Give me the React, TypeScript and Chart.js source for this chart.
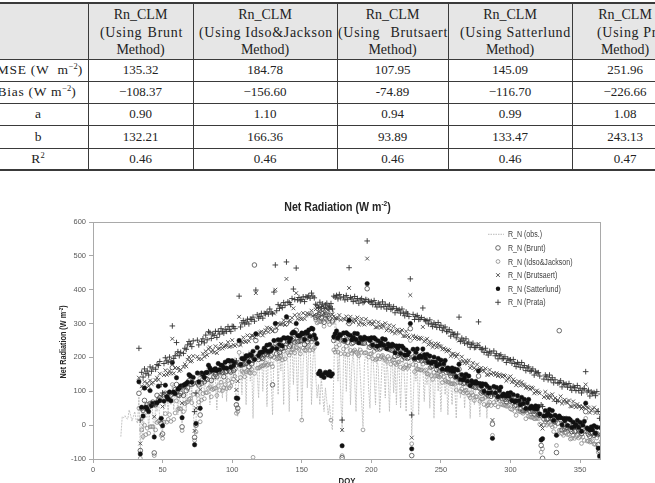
import React, { useEffect, useRef } from "react";
import { Chart, registerables } from "chart.js";

Chart.register(...registerables);

// ---------------- DATA ----------------
const OBS_START_DOY = 20;
const MODEL_START_DOY = 33;
const X_TICKS = [0, 50, 100, 150, 200, 250, 300, 350];
const Y_TICKS = [-100, 0, 100, 200, 300, 400, 500, 600];

const SERIES_LABELS = [
  "R_N (obs.)",
  "R_N (Brunt)",
  "R_N (Idso&Jackson)",
  "R_N (Brutsaert)",
  "R_N (Satterlund)",
  "R_N (Prata)",
];

const OBS = [
  -34, 25, 22, 28, 20, 18, 45, 30, 12, 25,
  40, 15, 5, 84, -78, 55, -44, 70, 20, 60,
  -10, 50, 75, 30, -40, 65, 40, 80, 15, -14,
  -20, 70, 55, 90, 35, 100, 60, 120, 45, 95,
  110, 30, 85, 60, 5, 115, 95, 40, 125, 130,
  70, 110, 50, -30, 10, 130, 150, 40, 120, 160,
  90, 140, 170, 180, 60, 150, 100, 175, 135, 45,
  160, 185, 120, 80, 190, 165, 70, 175, 190, 110,
  185, 140, 200, 40, 25, 210, 170, 90, 215, 195,
  60, 205, 220, 130, 180, 20, 200, 235, 150, 80,
  215, 225, 100, 190, 240, 55, 210, 235, 140, 30,
  200, 245, 250, 90, 220, 160, 245, 60, 230, 255,
  180, 40, 215, 250, 120, 260, 200, 70, 240, 255,
  15, 180, 240, 265, 110, 225, 255, 60, 190, 245,
  150, 80, 120, 60, 140, 90, 40, 110, 70, 30,
  60, 10, -14, 150, 320, 280, 130, 220, 90, -20,
  200, 230, 100, 210, 240, 60, 180, 220, 130, 40,
  205, 230, 150, 70, -5, 180, 215, 235, 110, 50,
  190, 220, 140, 60, 200, 170, 35, 120, 210, 185,
  80, 200, 150, 40, 170, 205, 95, 180, 60, 190,
  160, 50, 175, 200, 120, 40, 185, 170, 190, -30,
  60, 175, 130, 180, 30, 150, 185, 170, 70, 160,
  120, 175, 50, 165, 150, 20, 140, 170, 100, 160,
  40, 150, 165, 90, 145, 30, 155, 130, 60, 150,
  110, 20, 140, 155, 80, 135, 145, 50, 130, 90,
  140, 20, 125, 135, 60, 120, 140, 95, 25, 115,
  130, 70, 110, 20, 100, 60,
];

const PRATA = [
  227, 15,
  156, 142, 166, 152, 160, 148, 172, 159, 169, 60, 165, 179, 176, 188, 120, 95, 182, 199, 190, 186,
  201, 187, 293, 197, 205, 244, 217, 205, 215, 110, 212, 227, 224, 237, 247, 240, 232, 249, 40, 95,
  251, 237, 150, 247, 255, 243, 266, 252, 276, 273, 256, 269, 265, 277, 259, 277, 269, 285, 276, 272,
  283, 277, 291, 283, 277, 292, 291, 285, 190, 180, 381, 290, 302, 309, 299, 304, 313, 299, 313, 312,
  319, 307, 399, 326, 316, 321, 330, 316, 330, 329, 334, 328, 343, 334, 329, 393, 473, 338, 356, 345,
  353, 347, 362, 354, 482, 364, 362, 356, 374, 402, 371, 464, 370, 377, 367, 371, 379, 365, 379, 378, 382, 375, 390, 381, 376,
  357, 354, 347, 363, 350, 358, 345, 355, 360, 349, 352, 359, 343, 381, 378, 383, 373, 386, 376, 15,
  379, 370, 383, 372, 465, 377, 373, 365, 380, 367, 374, 360, 370, 374, 362, 365, 371, 544, 366, 363,
  365, 356, 368, 357, 349, 361, 357, 349, 364, 350, 357, 343, 351, 355, 342, 344, 350, 332, 344, 339, 341, 331, 343, 331, 323, 334, 329, 321, 432, 30,
  327, 312, 321, 324, 312, 313, 318, 346, 312, 308, 309, 299, 311, 299, 291, 302, 297, 289, 303, 289, 295, 280, 287, 290, 276, 277, 282, 263, 274, 268,
  269, 258, 269, 319, 247, 257, 251, 242, 255, 240, 245, 230, 238, 242, 229, 230, 235, 305, 229, 224, 225, 215, 227, 215, 207, 218, 213, 90, 219, 205,
  211, 196, 205, 208, 196, 197, 202, 185, 196, 192, 193, 183, 194, 182, 173, 185, 180, 171, 185, 170, 176, 161, 169, 172, 159, 161, 166, 148, 159, 154,
  155, 145, 60, 55, 136, 148, 143, 134, 148, 134, 140, 125, 134, 70, 124, 126, 131, 113, 124, 120, 121, 112, 123, 112, 103, 115, 111, 102, 117, 102,
  109, 95, 104, 108, 158, 98, 103, 86, 98, 94, 96, 87, 99, 40, 20, 92,
];

const BRUTSAERT = [
  140, -54,
  115, 108, 128, 108, 124, 115, 132, 122, 126, 25, 133, 140, 134, 152, 85, 55, 148, 162, 149, 153,
  160, 153, 255, 153, 169, 211, 169, 160, 164, 65, 172, 180, 174, 193, 201, 188, 190, 204, -17, 50,
  202, 195, 105, 195, 211, 202, 218, 207, 225, 230, 216, 222, 215, 233, 213, 225, 227, 240, 227, 231,
  234, 235, 245, 231, 233, 251, 237, 234, 104, 130, 320, 237, 246, 259, 247, 246, 265, 248, 258, 265,
  264, 259, 390, 268, 266, 274, 276, 265, 273, 280, 288, 275, 287, 284, 277, 330, 400, 287, 301, 298,
  298, 299, 310, 296, 432, 317, 308, 305, 317, 345, 325, 390, 314, 327, 315, 313, 331, 314, 324, 331, 327, 327, 338, 323, 326,
  342, 346, 335, 345, 340, 351, 331, 344, 343, 340, 346, 346, 327, 321, 316, 315, 315, 325, 311, -14,
  314, 312, 321, 304, 405, 320, 309, 304, 313, 308, 318, 297, 304, 314, 300, 297, 313, 492, 301, 306,
  300, 298, 306, 289, 289, 304, 293, 288, 297, 291, 301, 280, 285, 295, 280, 276, 292, 271, 279, 282, 276, 273, 281, 263, 263, 277, 265, 260, 384, -37,
  264, 256, 261, 258, 254, 258, 256, 290, 247, 251, 255, 238, 247, 241, 231, 236, 241, 230, 240, 234, 232, 224, 227, 224, 218, 222, 220, 204, 209, 211,
  206, 202, 209, 250, 189, 202, 189, 183, 190, 183, 191, 169, 174, 184, 169, 164, 179, 240, 166, 169, 162, 159, 167, 149, 149, 163, 151, 15, 154, 148,
  153, 145, 150, 147, 143, 147, 145, 131, 136, 140, 144, 127, 135, 129, 118, 124, 129, 117, 127, 120, 118, 110, 114, 111, 106, 111, 109, 94, 99, 102,
  97, 94, 0, -10, 83, 98, 86, 80, 88, 82, 91, 74, 80, 20, 74, 70, 85, 64, 71, 75, 68, 66, 73, 56, 55, 70, 59, 53, 62, 55,
  56, 49, 54, 52, 120, 53, 51, 37, 43, 47, 52, 36, 45, -10, -30, 36,
];

const SATTERLUND = [
  128, -85,
  53, 27, 110, 53, 48, 40, 102, 57, 64, -35, 65, 66, 115, 72, 20, -2, 71, 118, 84, 77,
  98, 72, 185, 98, 93, 140, 106, 109, 116, 22, 118, 120, 123, 127, 149, 145, 127, 141, -58, 5,
  154, 128, 50, 154, 149, 141, 155, 156, 177, 169, 162, 162, 164, 167, 161, 182, 164, 177, 176, 169,
  186, 168, 191, 190, 171, 190, 176, 185, 80, 79, 250, 179, 197, 195, 197, 205, 204, 187, 209, 205,
  218, 194, 270, 229, 206, 215, 215, 216, 227, 221, 236, 217, 238, 220, 227, 250, 300, 226, 252, 238,
  252, 234, 258, 257, 320, 258, 247, 256, 271, 275, 273, 300, 265, 263, 265, 272, 270, 253, 275, 271, 281, 262, 286, 284, 266,
  256, 241, 152, 159, 146, 150, 141, 156, 153, 148, 158, 145, 151, 261, 270, 278, 258, 268, 266, -61,
  272, 251, 273, 269, 310, 265, 252, 259, 271, 253, 270, 243, 259, 254, 254, 260, 256, 418, 256, 250,
  258, 237, 258, 254, 233, 249, 236, 243, 255, 236, 253, 226, 240, 235, 234, 239, 235, 214, 234, 226, 234, 212, 233, 228, 207, 222, 208, 215, 300, -70,
  224, 197, 215, 225, 200, 205, 201, 225, 207, 198, 209, 186, 204, 183, 187, 201, 186, 175, 197, 180, 192, 165, 181, 191, 164, 169, 165, 161, 169, 158,
  166, 143, 163, 180, 135, 149, 134, 140, 150, 130, 145, 117, 131, 126, 125, 129, 124, 160, 123, 115, 122, 100, 121, 116, 95, 110, 96, -39, 114, 95,
  111, 84, 102, 112, 87, 92, 88, 86, 94, 85, 96, 73, 90, 69, 72, 87, 72, 60, 82, 64, 76, 49, 66, 76, 50, 56, 52, 49, 57, 47,
  55, 33, -44, -40, 27, 43, 29, 35, 46, 27, 43, 14, 29, -30, 22, 27, 22, 1, 20, 13, 20, -1, 19, 15, -7, 9, -4, 2, 14, -6,
  8, -18, 0, 11, 65, -8, -12, -14, -5, -14, -2, -24, -6, -68, -91, -7,
];

const BRUNT = [
  94, -75,
  50, 44, 73, 49, 60, 53, 64, 62, 68, -82, 61, 88, 74, 81, 5, -26, 90, 94, 90, 77,
  95, 89, 170, 94, 105, 120, 89, 88, 94, -5, 88, 116, 102, 110, 131, 121, 120, 124, -36, 0,
  125, 119, 30, 124, 135, 128, 138, 135, 155, 159, 132, 158, 143, 150, 143, 158, 157, 160, 156, 143,
  157, 159, 178, 160, 157, 177, 161, 166, 60, 50, 240, 177, 178, 180, 181, 183, 199, 172, 191, 181,
  191, 473, 250, 201, 194, 204, 200, 197, 207, 213, 208, 215, 219, 205, 119, 230, 280, 211, 234, 214,
  225, 227, 247, 229, 300, 247, 232, 237, 251, 255, 245, 280, 246, 248, 249, 250, 265, 238, 257, 247, 254, 255, 275, 256, 254,
  318, 323, 321, 327, 317, 330, 304, 325, 326, 322, 315, 335, 308, 250, 258, 260, 257, 257, 252, -96,
  249, 248, 266, 245, 300, 258, 241, 244, 255, 249, 246, 245, 244, 243, 242, 242, 255, 403, 242, 230,
  235, 234, 251, 230, 225, 242, 225, 228, 239, 232, 229, 228, 225, 224, 222, 221, 234, 203, 220, 206, 211, 209, 226, 204, 199, 215, 197, 200, 285, -90,
  201, 194, 208, 201, 192, 198, 190, 210, 191, 194, 185, 188, 189, 172, 175, 183, 185, 164, 183, 160, 169, 162, 174, 167, 156, 162, 154, 146, 153, 154,
  143, 140, 156, 165, 127, 142, 123, 125, 134, 126, 121, 119, 116, 115, 113, 111, 123, 145, 109, 95, 99, 97, 114, 92, 87, 103, 85, 3, 98, 91,
  87, 80, 94, 87, 78, 84, 76, 70, 77, 80, 71, 74, 74, 57, 59, 68, 70, 48, 67, 43, 52, 45, 58, 51, 41, 48, 40, 33, 40, 42,
  31, 29, -60, -98, 18, 35, 17, 19, 29, 22, 18, 12, 10, -81, 6, 279, 17, -14, 2, -11, -7, -8, 8, -13, -19, -2, -19, -17, -6, -14,
  -19, -25, -11, -17, 40, -19, -27, -33, -25, -22, -30, -26, -25, -58, -75, -29,
];

const IDSO = [
  50, -98,
  -14, -34, 0, -28, -9, -24, -5, -4, -5, -90, -14, 8, 12, 13, -30, -39, 9, 34, 9, 17,
  31, 11, 120, 17, 36, 72, 47, 49, 48, -16, 40, 63, 67, 69, 76, 79, 66, 91, -45, -20,
  88, 68, 10, 74, 93, 78, 96, 96, 109, 113, 84, 105, 108, 109, 88, 116, 103, 127, 102, 110,
  120, 108, 132, 110, 115, 127, 136, 144, 35, 40, 215, 141, 160, 156, 143, 158, 162, 156, 154, 165,
  -95, 153, 200, 168, 169, 171, 175, 175, 178, 184, 177, 179, 201, 181, 173, 200, 240, 195, 197, 198,
  205, 193, 218, 196, 240, 214, 207, 215, 222, 225, 214, 230, 228, 224, 211, 15, 228, 222, 220, 231, 234, 221, 246, 223, 229,
  311, 302, 305, 307, 305, 310, 292, 316, 310, 306, 297, 15, 303, 222, 216, 231, 216, 237, 211, -90,
  225, 210, 233, 208, 260, 221, 212, 218, 222, 216, 211, 205, 222, 215, -14, 213, 214, 370, 201, 210,
  211, 196, 218, 193, 196, 205, 196, 202, 206, 199, 194, 188, 203, 196, 180, 192, 193, 183, 179, 186, 187, 171, 193, 167, 170, 178, 168, 174, 250, -55,
  179, 158, 177, 166, 165, 163, 163, 180, 160, 163, 152, 150, 169, 146, 135, 156, 146, 146, 144, 142, 147, 126, 143, 132, 129, 127, 127, 122, 122, 123,
  121, 104, 125, 135, 100, 107, 96, 101, 103, 95, 88, 81, 96, 89, 73, 84, 84, 110, 70, 77, 77, 61, 83, 57, 60, 68, 58, -30, 67, 60,
  75, 54, 73, 62, 61, 59, 59, 56, 56, 59, 48, 46, 64, 41, 29, 51, 41, 40, 38, 35, 40, 19, 37, 26, 24, 23, 23, 19, 19, 21,
  19, 3, -80, -70, 1, 10, 0, 5, 8, 1, -5, -19, -3, -60, -27, -15, -15, -25, -30, -22, -23, -28, -27, -41, -39, -30, -39, -34, -30, -38,
  -34, -54, -35, -45, 20, -47, -47, -50, -49, -46, -56, -57, -38, -80, -95, -49,
];

// Table values
const TABLE_METHODS = ["Brunt", "Idso&Jackson", "Brutsaert", "Satterlund", "Prata"];
const TABLE_RMSE = ["135.32", "184.78", "107.95", "145.09", "251.96"];
const TABLE_BIAS = ["\u2212108.37", "\u2212156.60", "-74.89", "\u2212116.70", "\u2212226.66"];
const TABLE_A = ["0.90", "1.10", "0.94", "0.99", "1.08"];
const TABLE_B = ["132.21", "166.36", "93.89", "133.47", "243.13"];
const TABLE_R2 = ["0.46", "0.46", "0.46", "0.46", "0.47"];

// ---------------- LAYOUT ----------------
const COL_X = [-12, 88, 193, 337, 448, 572, 678];
const ROW_Y = [3, 59, 81, 103, 125, 148, 170];
const MID_SPAN = [
  [100, 182],
  [199, 332],
  [338, 447],
  [460, 570],
  [597, 673],
];

const SERIF = '"Liberation Serif", "Times New Roman", serif';
const SANS = '"Liberation Sans", Arial, sans-serif';

function Table() {
  const els: any[] = [];
  els.push(
    <div key="hbg" style={{ position: "absolute", left: 0, top: ROW_Y[0], width: 655, height: ROW_Y[1] - ROW_Y[0], background: "#e6e6e6" }} />
  );
  ROW_Y.forEach((y, i) => {
    const h = i === 0 || i === ROW_Y.length - 1 ? 2 : 1;
    els.push(
      <div key={"h" + i} style={{ position: "absolute", left: 0, top: y - (h === 2 ? 1 : 0), width: 655, height: h, background: "#3a3a3a" }} />
    );
  });
  COL_X.slice(1, 6).forEach((x, i) => {
    els.push(
      <div key={"v" + i} style={{ position: "absolute", left: x, top: ROW_Y[0], width: 1, height: ROW_Y[6] - ROW_Y[0], background: "#3a3a3a" }} />
    );
  });
  const txt = (key: string, cx: number, cy: number, content: any, size = 13, ls = 0) => (
    <div
      key={key}
      style={{
        position: "absolute",
        left: cx - 80,
        width: 160,
        top: cy - 9,
        height: 18,
        lineHeight: "18px",
        textAlign: "center",
        fontFamily: SERIF,
        fontSize: size,
        letterSpacing: ls,
        color: "#222",
        whiteSpace: "nowrap",
      }}
    >
      {content}
    </div>
  );
  TABLE_METHODS.forEach((m, i) => {
    const cx = (COL_X[i + 1] + COL_X[i + 2]) / 2;
    els.push(txt("t1" + i, cx, 15, "Rn_CLM", 14));
    els.push(
      <div
        key={"t2" + i}
        style={{
          position: "absolute",
          left: MID_SPAN[i][0],
          width: MID_SPAN[i][1] - MID_SPAN[i][0] + 1,
          top: 32.5 - 9,
          height: 18,
          lineHeight: "18px",
          display: "flex",
          justifyContent: "space-between",
          columnGap: 4,
          fontFamily: SERIF,
          fontSize: 14,
          letterSpacing: 0.7,
          color: "#222",
          whiteSpace: "nowrap",
        }}
      >
        <span>(Using</span>
        <span>{m}</span>
      </div>
    );
    els.push(txt("t3" + i, cx, 50, "Method)", 14));
  });
  const sup = (s: string) => (
    <span style={{ fontSize: 8.5, position: "relative", top: -5, letterSpacing: 0 }}>{s}</span>
  );
  const rowLabels = [
    <>RMSE (W&nbsp;&nbsp;m{sup("\u22122")})</>,
    <>Bias (W m{sup("\u22122")})</>,
    <>a</>,
    <>b</>,
    <>R{sup("2")}</>,
  ];
  const rows = [TABLE_RMSE, TABLE_BIAS, TABLE_A, TABLE_B, TABLE_R2];
  rows.forEach((vals, r) => {
    const cy = (ROW_Y[r + 1] + ROW_Y[r + 2]) / 2;
    const lcx = r === 0 ? 35 : r === 1 ? 37 : 38;
    els.push(txt("rl" + r, lcx, cy, rowLabels[r], 13.5, r < 2 ? 0.7 : 0));
    vals.forEach((v, c) => {
      const cx = (COL_X[c + 1] + COL_X[c + 2]) / 2;
      els.push(txt("v" + r + "_" + c, cx, cy, v, 13));
    });
  });
  return <div style={{ position: "absolute", left: 0, top: 0, width: 655, height: 180 }}>{els}</div>;
}

// ---------------- CHART ----------------
const CANVAS_TOP = 180;

function drawParts(
  ctx: CanvasRenderingContext2D,
  parts: { t: string; sup?: boolean }[],
  size: number,
  scaleX: number,
  color: string
) {
  const mainFont = `bold ${size}px ${SANS}`;
  const supFont = `bold ${size * 0.62}px ${SANS}`;
  let total = 0;
  const widths = parts.map((p) => {
    ctx.font = p.sup ? supFont : mainFont;
    const w = ctx.measureText(p.t).width;
    total += w;
    return w;
  });
  ctx.save();
  ctx.scale(scaleX, 1);
  ctx.fillStyle = color;
  ctx.textAlign = "left";
  ctx.textBaseline = "alphabetic";
  let x = -total / 2;
  parts.forEach((p, i) => {
    ctx.font = p.sup ? supFont : mainFont;
    ctx.fillText(p.t, x, p.sup ? -size * 0.38 : 0);
    x += widths[i];
  });
  ctx.restore();
}

function drawMarker(ctx: CanvasRenderingContext2D, kind: string, x: number, y: number) {
  ctx.save();
  ctx.beginPath();
  if (kind === "brunt") {
    ctx.strokeStyle = "#4a4a4a";
    ctx.lineWidth = 0.8;
    ctx.arc(x, y, 2.3, 0, Math.PI * 2);
    ctx.stroke();
  } else if (kind === "idso") {
    ctx.strokeStyle = "#8a8a8a";
    ctx.lineWidth = 0.8;
    ctx.arc(x, y, 1.9, 0, Math.PI * 2);
    ctx.stroke();
  } else if (kind === "brutsaert") {
    ctx.strokeStyle = "#4a4a4a";
    ctx.lineWidth = 0.9;
    const r = 1.9;
    ctx.moveTo(x - r, y - r);
    ctx.lineTo(x + r, y + r);
    ctx.moveTo(x + r, y - r);
    ctx.lineTo(x - r, y + r);
    ctx.stroke();
  } else if (kind === "satterlund") {
    ctx.fillStyle = "#111";
    ctx.arc(x, y, 2.2, 0, Math.PI * 2);
    ctx.fill();
  } else if (kind === "prata") {
    ctx.strokeStyle = "#333";
    ctx.lineWidth = 0.9;
    const r = 2.8;
    ctx.moveTo(x - r, y);
    ctx.lineTo(x + r, y);
    ctx.moveTo(x, y - r);
    ctx.lineTo(x, y + r);
    ctx.stroke();
  }
  ctx.restore();
}

const decorPlugin = {
  id: "decor",
  afterDraw(chart: any) {
    const ctx: CanvasRenderingContext2D = chart.ctx;
    const a = chart.chartArea;
    ctx.save();
    ctx.strokeStyle = "#a9a9a9";
    ctx.lineWidth = 1;
    ctx.strokeRect(Math.round(a.left) + 0.5, Math.round(a.top) + 0.5, Math.round(a.right - a.left) - 1, Math.round(a.bottom - a.top));
    ctx.restore();

    ctx.save();
    ctx.translate(337.5, 30.5);
    drawParts(ctx, [{ t: "Net Radiation (W m" }, { t: "-2", sup: true }, { t: ")" }], 12.2, 0.87, "#262626");
    ctx.restore();

    ctx.save();
    ctx.translate(66, 342 - CANVAS_TOP);
    ctx.rotate(-Math.PI / 2);
    drawParts(ctx, [{ t: "Net Radiation (W m" }, { t: "-2", sup: true }, { t: ")" }], 8.4, 0.87, "#262626");
    ctx.restore();

    ctx.save();
    ctx.translate((a.left + a.right) / 2, 484 - CANVAS_TOP);
    drawParts(ctx, [{ t: "DOY" }], 8.6, 0.9, "#262626");
    ctx.restore();

    const lx = 498;
    const ys = [234.3, 247.9, 261.5, 275.1, 288.7, 302.3].map((v) => v - CANVAS_TOP);
    const kinds = ["obs", "brunt", "idso", "brutsaert", "satterlund", "prata"];
    kinds.forEach((k, i) => {
      const y = ys[i];
      if (k === "obs") {
        ctx.save();
        ctx.strokeStyle = "#a8a8a8";
        ctx.lineWidth = 0.8;
        ctx.setLineDash([1.5, 1]);
        ctx.beginPath();
        ctx.moveTo(lx - 10, y);
        ctx.lineTo(lx + 6, y);
        ctx.stroke();
        ctx.restore();
      } else {
        drawMarker(ctx, k, lx, y);
      }
      ctx.save();
      ctx.translate(508, y + 3);
      ctx.scale(0.84, 1);
      ctx.font = `8.4px ${SANS}`;
      ctx.fillStyle = "#404040";
      ctx.textAlign = "left";
      ctx.textBaseline = "alphabetic";
      ctx.fillText(SERIES_LABELS[i], 0, 0);
      ctx.restore();
    });
  },
};

function pts(arr: number[], start: number) {
  return arr.map((v, i) => ({ x: start + i, y: v }));
}

export default function App() {
  const ref = useRef<HTMLCanvasElement>(null);
  useEffect(() => {
    if (!ref.current) return;
    const tickFont = { family: SANS, size: 7.5 };
    const chart = new Chart(ref.current, {
      type: "scatter",
      data: {
        datasets: [
          {
            label: SERIES_LABELS[0],
            type: "line",
            data: pts(OBS, OBS_START_DOY),
            borderColor: "#b6b6b6",
            borderWidth: 0.8,
            borderDash: [2, 1],
            pointRadius: 0,
            showLine: true,
            fill: false,
            tension: 0,
            order: 10,
          } as any,
          {
            label: SERIES_LABELS[1],
            data: pts(BRUNT, MODEL_START_DOY),
            pointStyle: "circle",
            pointRadius: 2.3,
            borderColor: "#4a4a4a",
            pointBorderColor: "#4a4a4a",
            backgroundColor: "rgba(0,0,0,0)",
            pointBackgroundColor: "rgba(0,0,0,0)",
            pointBorderWidth: 0.8,
            borderWidth: 0.8,
            order: 5,
          },
          {
            label: SERIES_LABELS[2],
            data: pts(IDSO, MODEL_START_DOY),
            pointStyle: "circle",
            pointRadius: 1.9,
            borderColor: "#8a8a8a",
            pointBorderColor: "#8a8a8a",
            backgroundColor: "rgba(0,0,0,0)",
            pointBackgroundColor: "rgba(0,0,0,0)",
            pointBorderWidth: 0.8,
            borderWidth: 0.8,
            order: 6,
          },
          {
            label: SERIES_LABELS[3],
            data: pts(BRUTSAERT, MODEL_START_DOY),
            pointStyle: "crossRot",
            pointRadius: 2.7,
            borderColor: "#4a4a4a",
            pointBorderColor: "#4a4a4a",
            pointBorderWidth: 0.9,
            borderWidth: 0.9,
            order: 4,
          },
          {
            label: SERIES_LABELS[4],
            data: pts(SATTERLUND, MODEL_START_DOY),
            pointStyle: "circle",
            pointRadius: 2.2,
            borderColor: "#111",
            pointBorderColor: "#111",
            backgroundColor: "#111",
            pointBackgroundColor: "#111",
            pointBorderWidth: 0.5,
            order: 3,
          },
          {
            label: SERIES_LABELS[5],
            data: pts(PRATA, MODEL_START_DOY),
            pointStyle: "cross",
            pointRadius: 2.8,
            borderColor: "#333",
            pointBorderColor: "#333",
            pointBorderWidth: 0.9,
            borderWidth: 0.9,
            order: 2,
          },
        ],
      },
      options: {
        responsive: false,
        maintainAspectRatio: false,
        devicePixelRatio: 1,
        animation: false,
        events: [],
        layout: { padding: { left: 0, right: 54, top: 42, bottom: 0 } },
        plugins: { legend: { display: false }, tooltip: { enabled: false }, title: { display: false } },
        scales: {
          x: {
            type: "linear",
            min: 0,
            max: 365,
            afterBuildTicks: (s: any) => {
              s.ticks = X_TICKS.map((v) => ({ value: v }));
            },
            afterFit: (s: any) => {
              s.height = 24;
            },
            grid: { drawOnChartArea: false, drawTicks: true, tickLength: 4, color: "#a9a9a9", lineWidth: 1 },
            border: { display: false },
            ticks: { font: tickFont, color: "#595959", padding: 2, maxRotation: 0, autoSkip: false },
          },
          y: {
            type: "linear",
            min: -100,
            max: 600,
            afterBuildTicks: (s: any) => {
              s.ticks = Y_TICKS.map((v) => ({ value: v }));
            },
            afterFit: (s: any) => {
              s.width = 93;
            },
            grid: { drawOnChartArea: false, drawTicks: true, tickLength: 4, color: "#a9a9a9", lineWidth: 1 },
            border: { display: false },
            ticks: { font: tickFont, color: "#595959", padding: 3, autoSkip: false },
          },
        },
      },
      plugins: [decorPlugin],
    } as any);
    return () => chart.destroy();
  }, []);

  return (
    <div style={{ position: "fixed", left: 0, top: 0, width: 655, height: 483, overflow: "hidden", background: "#fff" }}>
      <Table />
      <canvas
        ref={ref}
        width={655}
        height={303}
        style={{ position: "absolute", left: 0, top: CANVAS_TOP, width: 655, height: 303 }}
      />
    </div>
  );
}
